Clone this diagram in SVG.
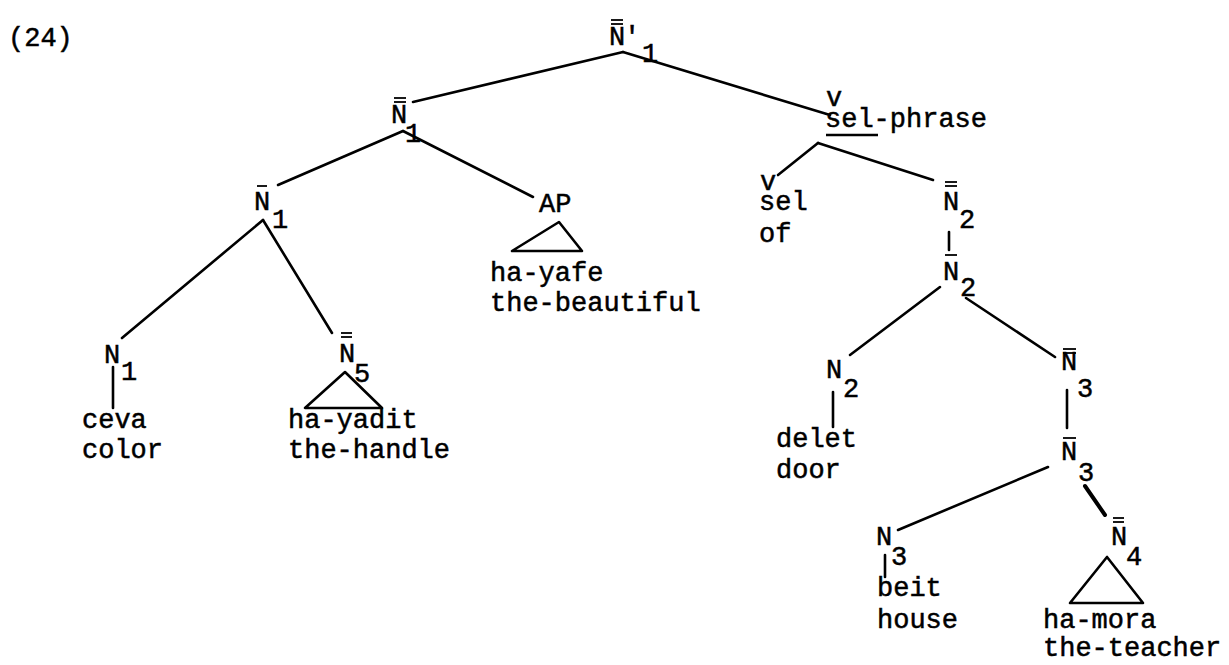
<svg xmlns="http://www.w3.org/2000/svg" width="1229" height="665" viewBox="0 0 1229 665">
<style>
.t{font-family:"Liberation Mono","Courier New",monospace;font-size:27px;fill:#000;stroke:#000;stroke-width:0.5}
.e{stroke:#000;stroke-width:2.6;fill:none;stroke-linecap:round}
.bar{stroke:#000;stroke-width:1.8}
.tri{stroke:#000;stroke-width:2.6;fill:none;stroke-linejoin:round}
</style>
<rect width="1229" height="665" fill="#fff"/>
<text class="t" x="8" y="46">(24)</text>
<g id="connectors">
<line class="e" x1="623" y1="52" x2="413" y2="102"/>
<line class="e" x1="623" y1="52" x2="830" y2="115"/>
<line class="e" x1="403" y1="131" x2="278" y2="185"/>
<line class="e" x1="403" y1="131" x2="533" y2="197"/>
<line class="e" x1="263" y1="220" x2="122" y2="338"/>
<line class="e" x1="263" y1="220" x2="332" y2="333"/>
<line class="e" x1="113" y1="367" x2="113" y2="408"/>
<line class="e" x1="818" y1="143" x2="778" y2="175"/>
<line class="e" x1="818" y1="143" x2="933" y2="180"/>
<line class="e" x1="949" y1="232" x2="949" y2="250"/>
<line class="e" x1="940" y1="287" x2="850" y2="355"/>
<line class="e" x1="966" y1="298" x2="1055" y2="357"/>
<line class="e" x1="833" y1="392" x2="833" y2="427"/>
<line class="e" x1="1067" y1="390" x2="1067" y2="428"/>
<line class="e" x1="1048" y1="467" x2="898" y2="530"/>
<line class="e" x1="1085" y1="486" x2="1105" y2="515" style="stroke-width:4"/>
<line class="e" x1="885" y1="555" x2="885" y2="577"/>
</g>
<g id="n-root">
<line class="bar" x1="611" y1="20" x2="623" y2="20"/>
<line class="bar" x1="611" y1="24" x2="623" y2="24"/>
<text class="t" x="609" y="45">N</text>
<text class="t" x="624" y="45">'</text>
<text class="t" x="642" y="62">1</text>
</g>
<g id="n-nbarbar1">
<line class="bar" x1="394" y1="98" x2="406" y2="98"/>
<line class="bar" x1="394" y1="102" x2="406" y2="102"/>
<text class="t" x="391" y="123">N</text>
<text class="t" x="405" y="142">1</text>
</g>
<g id="n-nbar1">
<line class="bar" x1="257" y1="186" x2="267" y2="186"/>
<text class="t" x="254" y="210">N</text>
<text class="t" x="272" y="228">1</text>
</g>
<g id="n-n1">
<text class="t" x="104" y="363">N</text>
<text class="t" x="121" y="380">1</text>
<text class="t" x="82" y="428">ceva</text>
<text class="t" x="82" y="458">color</text>
</g>
<g id="n-nbarbar5">
<line class="bar" x1="341" y1="333" x2="352" y2="333"/>
<line class="bar" x1="341" y1="337" x2="352" y2="337"/>
<text class="t" x="339" y="362">N</text>
<text class="t" x="354" y="382">5</text>
<polygon class="tri" points="345,372 305,408 382,408"/>
<text class="t" x="288" y="428">ha-yadit</text>
<text class="t" x="288" y="458">the-handle</text>
</g>
<g id="n-ap">
<text class="t" x="539" y="212">AP</text>
<polygon class="tri" points="559,222 512,251 582,251"/>
<text class="t" x="490" y="281">ha-yafe</text>
<text class="t" x="490" y="311">the-beautiful</text>
</g>
<g id="n-selphrase">
<text class="t" x="826" y="106">v</text>
<text class="t" x="825" y="127">sel-phrase</text>
<line class="bar" x1="826" y1="135" x2="878" y2="135" style="stroke-width:2.4"/>
</g>
<g id="n-sel">
<text class="t" x="760" y="190">v</text>
<text class="t" x="759" y="210">sel</text>
<text class="t" x="759" y="242">of</text>
</g>
<g id="n-nbarbar2">
<line class="bar" x1="945" y1="182" x2="957" y2="182"/>
<line class="bar" x1="945" y1="186" x2="957" y2="186"/>
<text class="t" x="943" y="210">N</text>
<text class="t" x="959" y="228">2</text>
</g>
<g id="n-nbar2">
<line class="bar" x1="945" y1="255" x2="957" y2="255"/>
<text class="t" x="943" y="280">N</text>
<text class="t" x="960" y="296">2</text>
</g>
<g id="n-n2">
<text class="t" x="826" y="378">N</text>
<text class="t" x="843" y="397">2</text>
<text class="t" x="776" y="447">delet</text>
<text class="t" x="776" y="478">door</text>
</g>
<g id="n-nbarbar3">
<line class="bar" x1="1063" y1="349" x2="1076" y2="349"/>
<line class="bar" x1="1063" y1="353" x2="1076" y2="353"/>
<text class="t" x="1061" y="370">N</text>
<text class="t" x="1077" y="397">3</text>
</g>
<g id="n-nbar3">
<line class="bar" x1="1063" y1="438" x2="1076" y2="438"/>
<text class="t" x="1061" y="460">N</text>
<text class="t" x="1078" y="481">3</text>
</g>
<g id="n-n3">
<text class="t" x="876" y="545">N</text>
<text class="t" x="891" y="565">3</text>
<text class="t" x="877" y="596">beit</text>
<text class="t" x="877" y="628">house</text>
</g>
<g id="n-nbarbar4">
<line class="bar" x1="1113" y1="518" x2="1124" y2="518"/>
<line class="bar" x1="1113" y1="522" x2="1124" y2="522"/>
<text class="t" x="1111" y="545">N</text>
<text class="t" x="1126" y="565">4</text>
<polygon class="tri" points="1107,557 1070,603 1143,603"/>
<text class="t" x="1043" y="628">ha-mora</text>
<text class="t" x="1043" y="656">the-teacher</text>
</g>
</svg>
